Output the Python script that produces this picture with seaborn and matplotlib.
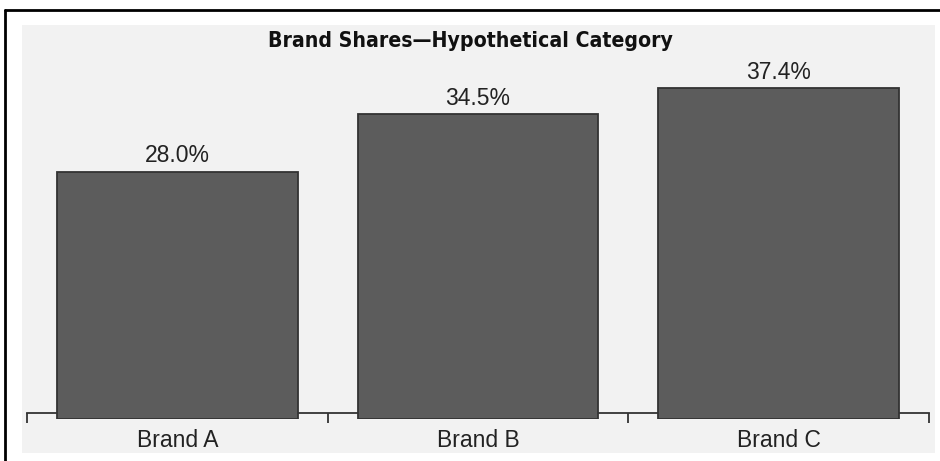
import matplotlib
matplotlib.use("Agg")
import matplotlib.pyplot as plt
from matplotlib.patches import Rectangle
from matplotlib.lines import Line2D
from matplotlib.ticker import FixedLocator, NullFormatter, FixedFormatter
import seaborn as sns
import pandas as pd

brands = ["Brand A", "Brand B", "Brand C"]
shares = [28.0, 34.5, 37.4]
labels = ["28.0%", "34.5%", "37.4%"]
title = "Brand Shares\u2014Hypothetical Category"

sns.set_theme(style="white")
plt.rcParams["font.family"] = ["Liberation Sans", "DejaVu Sans"]

W, H = 940, 461
fig = plt.figure(figsize=(W / 100, H / 100), dpi=100, facecolor="white")

# gray panel and partial black frame
fig.patches.append(Rectangle((22 / W, 1 - 453 / H), (935 - 22) / W, (453 - 25) / H,
                             transform=fig.transFigure, facecolor="#f2f2f2",
                             edgecolor="none", zorder=-5))
fig.lines.append(Line2D([5 / W, 5 / W], [0, 1 - 10 / H], transform=fig.transFigure,
                        color="black", lw=2, zorder=-4))
fig.lines.append(Line2D([5 / W, 1], [1 - 10 / H, 1 - 10 / H], transform=fig.transFigure,
                        color="black", lw=2, zorder=-4))

left, right = 27 / W, 929 / W
bottom = 1 - 419.3 / H
top = 1 - 30 / H
ax = fig.add_axes([left, bottom, right - left, top - bottom])
ax.set_facecolor("none")
ax.set_zorder(2)

df = pd.DataFrame({"brand": brands, "share": shares})
sns.barplot(data=df, x="brand", y="share", ax=ax, color="#5c5c5c",
            saturation=1, width=0.8, edgecolor="#333333", linewidth=1.3, zorder=3)
ax.set_xlim(-0.5, 2.5)
ax.set_ylim(0, 44)

ax.bar_label(ax.containers[0], labels=labels, padding=3, fontsize=16.5, color="#222222")

for s in ["left", "right", "top"]:
    ax.spines[s].set_visible(False)
ax.spines["bottom"].set_position(("outward", -4.3))
ax.spines["bottom"].set_color("#333333")
ax.spines["bottom"].set_linewidth(1.3)
ax.spines["bottom"].set_zorder(1)

ax.xaxis.set_major_locator(FixedLocator([-0.5, 0.5, 1.5, 2.5]))
ax.xaxis.set_major_formatter(NullFormatter())
ax.xaxis.set_minor_locator(FixedLocator([0, 1, 2]))
ax.xaxis.set_minor_formatter(FixedFormatter(brands))
ax.tick_params(axis="x", which="major", bottom=True, direction="out", length=7,
               width=1.3, color="#333333")
ax.tick_params(axis="x", which="minor", bottom=True, length=0, pad=11,
               labelsize=16.5, labelcolor="#222222")
ax.set_yticks([])
ax.set_xlabel("")
ax.set_ylabel("")

fig.text(470 / W, 1 - 41 / H, title, ha="center", va="center", fontsize=15.2,
         fontweight="bold", fontstretch="condensed", family=["DejaVu Sans"],
         color="#111111")

fig.savefig("out.png", dpi=100, facecolor="white")
